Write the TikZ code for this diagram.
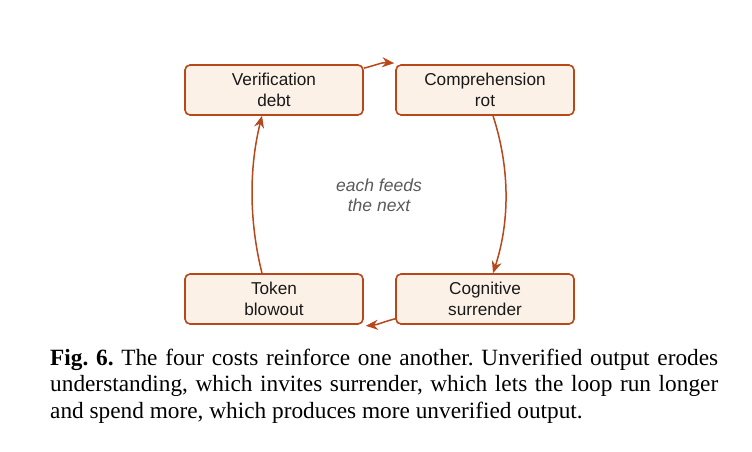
\documentclass[tikz,border=0pt]{standalone}
\usepackage{fontspec}
\setmainfont{Liberation Serif}
\setsansfont{Liberation Sans}
\usetikzlibrary{arrows.meta}
\definecolor{rust}{RGB}{184,72,26}
\definecolor{boxfill}{RGB}{251,241,230}
\definecolor{notegray}{RGB}{90,90,90}
\tikzset{
  costbox/.style={draw=rust, line width=1.6pt, fill=boxfill, rounded corners=5pt,
    minimum width=178pt, minimum height=50pt, align=center,
    font=\sffamily\fontsize{17.2}{20.5}\selectfont, text=black!90},
  link/.style={draw=rust, line width=1.5pt, -{Stealth[length=12pt,width=10pt]}}
}
\begin{document}
\begin{tikzpicture}[x=1pt,y=-1pt]
\useasboundingbox (0,0) rectangle (752,452);
\fill[white] (0,0) rectangle (752,452);
\node[costbox] (vd) at (274,90) {Verification\\debt};
\node[costbox] (cr) at (485,90) {Comprehension\\rot};
\node[costbox] (tb) at (274,299) {Token\\blowout};
\node[costbox] (cs) at (485,299) {Cognitive\\surrender};
\node[font=\sffamily\itshape\fontsize{17.5}{19.5}\selectfont, text=notegray, align=center] (note) at (379,195) {each feeds\\the next};
\draw[link] ([yshift=-4pt]vd.north east) .. controls +(12,-3) and +(-12,-1) .. ([xshift=-1pt,yshift=1pt]cr.north west);
\draw[link] ([xshift=8pt]cr.south) .. controls +(17,52) and +(17,-52) .. ([xshift=8pt]cs.north);
\draw[link] ([yshift=6pt]cs.south west) .. controls +(-12,3) and +(12,-1) .. ([xshift=2pt,yshift=-1pt]tb.south east);
\draw[link] ([xshift=-12pt]tb.north) .. controls +(-13,-52) and +(-13,52) .. ([xshift=-12pt]vd.south);
\node[anchor=base west, text width=668pt, align=justify, inner sep=0pt,
  font=\fontsize{23.3}{26.5}\selectfont] (cap) at (50,365)
  {\frenchspacing\hyphenpenalty=10000 \textbf{Fig. 6.} The four costs reinforce one another. Unverified output erodes\linebreak
   understanding, which invites surrender, which lets the loop run longer\linebreak
   and spend more, which produces more unverified output.\par};
\end{tikzpicture}
\end{document}
